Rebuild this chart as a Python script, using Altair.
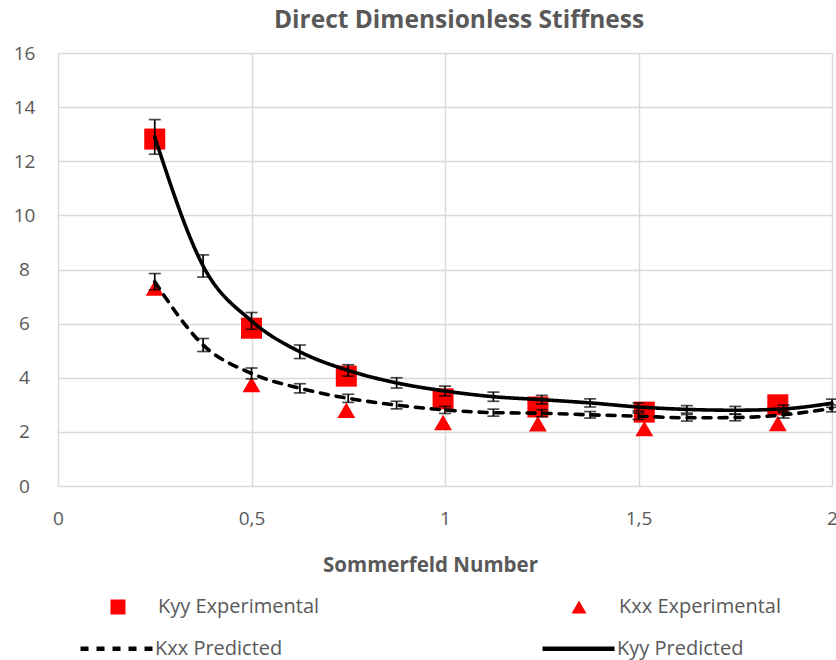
import altair as alt
import pandas as pd

# Predicted curves (x positions of the computed points)
x_pred = [0.25, 0.375, 0.5, 0.625, 0.75, 0.875, 1.0, 1.125, 1.25, 1.375, 1.5, 1.625, 1.75, 1.875, 2.0]
kyy_pred = [12.9, 8.13, 6.1, 4.96, 4.27, 3.81, 3.51, 3.30, 3.19, 3.07, 2.92, 2.83, 2.80, 2.85, 3.06]
kyy_err = [0.64, 0.41, 0.31, 0.25, 0.21, 0.19, 0.18, 0.17, 0.16, 0.15, 0.15, 0.14, 0.14, 0.14, 0.15]
kxx_pred = [7.55, 5.21, 4.16, 3.61, 3.24, 2.99, 2.81, 2.71, 2.69, 2.63, 2.58, 2.52, 2.53, 2.63, 2.87]
kxx_err = [0.3, 0.24, 0.2, 0.17, 0.15, 0.14, 0.13, 0.13, 0.13, 0.12, 0.12, 0.12, 0.12, 0.12, 0.13]

# Experimental points
x_exp = [0.25, 0.5, 0.745, 0.995, 1.24, 1.515, 1.86]
kyy_exp = [12.82, 5.83, 4.06, 3.22, 2.92, 2.73, 3.0]
kxx_exp = [7.32, 3.75, 2.80, 2.35, 2.30, 2.12, 2.31]

x_ticks = [0, 0.5, 1, 1.5, 2]
y_ticks = [0, 2, 4, 6, 8, 10, 12, 14, 16]

pred_names = ["Kxx Predicted", "Kyy Predicted"]
exp_names = ["Kyy Experimental", "Kxx Experimental"]

rows = []
for name, ys, es in [("Kxx Predicted", kxx_pred, kxx_err), ("Kyy Predicted", kyy_pred, kyy_err)]:
    for xv, yv, ev in zip(x_pred, ys, es):
        rows.append({"x": xv, "y": yv, "lo": yv - ev, "hi": yv + ev, "series": name})
pred = pd.DataFrame(rows)

caps = pd.concat([
    pred[["x", "lo", "series"]].rename(columns={"lo": "yc"}),
    pred[["x", "hi", "series"]].rename(columns={"hi": "yc"}),
])

sq = pd.DataFrame({"x": x_exp, "y": kyy_exp, "series": "Kyy Experimental"})
tri = pd.DataFrame({"x": x_exp, "y": kxx_exp, "series": "Kxx Experimental"})

TXT = "#595959"
FONT = "Open Sans"

x_enc = alt.X(
    "x:Q",
    scale=alt.Scale(domain=[0, 2], nice=False, zero=False),
    axis=alt.Axis(
        values=x_ticks, format="~g", labelExpr="replace(datum.label, '.', ',')",
        labelPadding=32, labelBaseline="middle", labelFlush=False,
        title="Sommerfeld Number", titleFont=FONT, titleFontSize=20.5, titleFontWeight="bold",
        titleColor=TXT, titleX=372, titleY=79, titleBaseline="middle", titleAlign="center",
        titleAnchor="start",
    ),
)
y_axis = alt.Axis(values=y_ticks, labelPadding=34, labelAlign="center", labelBaseline="middle",
                  title=None, labelFlush=False)

shape_scale = alt.Scale(domain=exp_names, range=["square", "triangle-up"])
shape_legend = alt.Legend(
    title=None, orient="none", legendX=50, legendY=544, columns=2, columnPadding=249,
    symbolSize=225, symbolFillColor="#FF0000", symbolStrokeWidth=0, symbolOpacity=1,
    labelOffset=30, labelFont=FONT, labelFontSize=20, labelColor=TXT, padding=0, labelLimit=400,
)
dash_scale = alt.Scale(domain=pred_names, range=[[8, 8], [1, 0]])
dash_legend = alt.Legend(
    title=None, orient="none", legendX=20, legendY=557, columns=2, columnPadding=250,
    symbolType="stroke", symbolSize=5184, symbolStrokeWidth=4.5, symbolStrokeColor="black",
    labelOffset=0, labelFont=FONT, labelFontSize=20, labelColor=TXT, padding=0, labelLimit=400,
)

squares = alt.Chart(sq).mark_point(filled=True, opacity=1, color="#FF0000", size=441).encode(
    x=x_enc,
    y=alt.Y("y:Q", scale=alt.Scale(domain=[0, 16], nice=False), axis=y_axis),
    shape=alt.Shape("series:N", scale=shape_scale, legend=shape_legend),
)
triangles = alt.Chart(tri).mark_point(filled=True, opacity=1, color="#FF0000", size=320).encode(
    x="x:Q", y="y:Q",
    shape=alt.Shape("series:N", scale=shape_scale, legend=shape_legend),
)
lines = alt.Chart(pred).mark_line(color="black", strokeWidth=3.6, interpolate="monotone", strokeCap="round").encode(
    x="x:Q", y="y:Q",
    strokeDash=alt.StrokeDash("series:N", scale=dash_scale, legend=dash_legend),
)
bars = alt.Chart(pred).mark_rule(color="black", strokeWidth=1.7).encode(
    x="x:Q", y="lo:Q", y2="hi:Q",
)
capmarks = alt.Chart(caps).mark_tick(color="black", orient="horizontal", size=12, thickness=1.7).encode(
    x="x:Q", y="yc:Q",
)

chart = alt.layer(squares, triangles, lines, bars, capmarks).properties(
    width=774, height=433,
    title=alt.TitleParams(
        "Direct Dimensionless Stiffness", font=FONT, fontSize=24.5, fontWeight="bold",
        color=TXT, anchor="middle", dx=14, offset=0, dy=1, baseline="middle", frame="group",
    ),
    autosize=alt.AutoSizeParams(type="none"),
    padding={"left": 58, "top": 53, "right": 4, "bottom": 174},
    background="white",
).configure_view(stroke=None).configure_axis(
    grid=True, gridColor="#D9D9D9", gridWidth=1.4, domain=False, ticks=False, tickSize=0,
    labelColor=TXT, labelFont=FONT, labelFontSize=19,
)

chart.save("out.html", embed_options={"renderer": "svg", "actions": False})
